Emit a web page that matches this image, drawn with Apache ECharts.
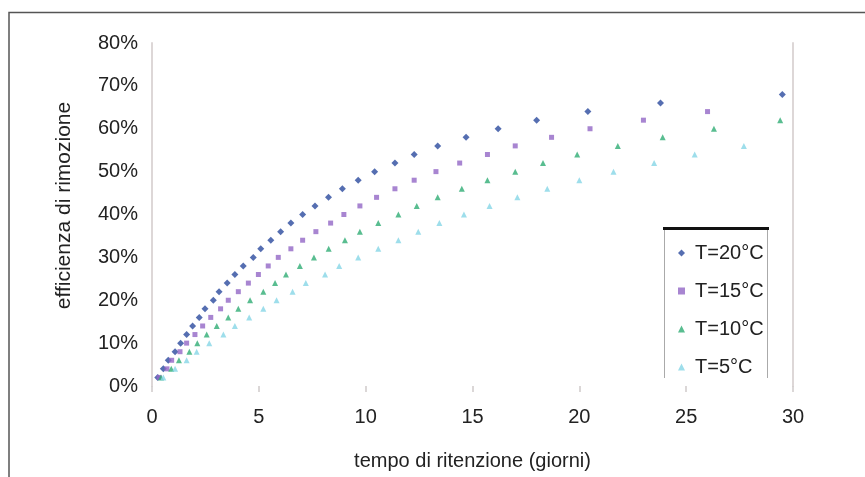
<!DOCTYPE html>
<html><head><meta charset="utf-8">
<script src="https://cdn.jsdelivr.net/npm/echarts@6/dist/echarts.min.js"></script>
<style>html,body{margin:0;padding:0;background:#fff}#c{width:865px;height:477px}</style>
</head><body><div id="c"></div>
<script>
const seriesNames = ['T=20°C', 'T=15°C', 'T=10°C', 'T=5°C'];
// tempo di ritenzione (giorni)
const t20x = [0.27,0.53,0.76,1.08,1.34,1.62,1.90,2.21,2.48,2.87,3.14,3.52,3.88,4.27,4.74,5.09,5.56,6.02,6.50,7.05,7.63,8.26,8.91,9.65,10.42,11.37,12.27,13.37,14.7,16.2,18.0,20.4,23.8,29.5];
const t20y = [2,4,6,8,10,12,14,16,18,20,22,24,26,28,30,32,34,36,38,40,42,44,46,48,50,52,54,56,58,60,62,64,66,68];
const t15x = [0.33,0.70,0.92,1.31,1.62,2.01,2.37,2.75,3.21,3.57,4.04,4.51,4.98,5.44,5.91,6.50,7.05,7.67,8.36,8.98,9.73,10.51,11.37,12.27,13.29,14.4,15.7,17.0,18.7,20.5,23.0,26.0];
const t15y = [2,4,6,8,10,12,14,16,18,20,22,24,26,28,30,32,34,36,38,40,42,44,46,48,50,52,54,56,58,60,62,64];
const t10x = [0.42,0.90,1.26,1.75,2.12,2.56,3.03,3.57,4.04,4.59,5.21,5.76,6.27,6.92,7.58,8.27,9.03,9.73,10.59,11.53,12.39,13.37,14.5,15.7,17.0,18.3,19.9,21.8,23.9,26.3,29.4];
const t10y = [2,4,6,8,10,12,14,16,18,20,22,24,26,28,30,32,34,36,38,40,42,44,46,48,50,52,54,56,58,60,62];
const t5x = [0.53,1.08,1.62,2.09,2.68,3.34,3.88,4.55,5.21,5.83,6.58,7.20,8.10,8.76,9.65,10.59,11.53,12.46,13.45,14.6,15.8,17.1,18.5,20.0,21.6,23.5,25.4,27.7];
const t5y = [2,4,6,8,10,12,14,16,18,20,22,24,26,28,30,32,34,36,38,40,42,44,46,48,50,52,54,56];
const xTicks = [0,5,10,15,20,25,30];
const yTicks = [0,10,20,30,40,50,60,70,80];
const xTitle = 'tempo di ritenzione (giorni)';
const yTitle = 'efficienza di rimozione';

const FONT = '"Liberation Sans", Arial, sans-serif';
const pairs = (xs, ys) => xs.map((x, i) => [x, ys[i]]);
const styles = [
  {symbol: 'diamond', size: 7, color: '#2b4a9e'},
  {symbol: 'rect', size: 5, color: '#9266c6'},
  {symbol: 'triangle', size: 6, color: '#30ac74'},
  {symbol: 'triangle', size: 6, color: '#86d6e6'}
];
const dataSets = [pairs(t20x, t20y), pairs(t15x, t15y), pairs(t10x, t10y), pairs(t5x, t5y)];

const chart = echarts.init(document.getElementById('c'), null, {renderer: 'canvas'});
chart.setOption({
  animation: false,
  backgroundColor: '#fff',
  textStyle: {fontFamily: FONT},
  grid: {left: 152, right: 72, top: 43, bottom: 91},
  xAxis: {
    type: 'value', min: xTicks[0], max: xTicks[xTicks.length - 1], interval: 5,
    axisLine: {show: false},
    axisTick: {show: true, length: 6, lineStyle: {color: '#cfcaca', width: 1.5}},
    axisLabel: {fontSize: 20, color: '#222', margin: 21, fontFamily: FONT},
    splitLine: {show: false},
    name: xTitle, nameLocation: 'middle', nameGap: 65,
    nameTextStyle: {fontSize: 20, color: '#222', fontFamily: FONT}
  },
  yAxis: [{
    type: 'value', min: yTicks[0], max: yTicks[yTicks.length - 1], interval: 10,
    axisLine: {show: true, lineStyle: {color: '#ddd7d7', width: 2}},
    axisTick: {show: false},
    axisLabel: {fontSize: 20, color: '#222', margin: 14, formatter: '{value}%', fontFamily: FONT},
    splitLine: {show: false},
    name: yTitle, nameLocation: 'middle', nameGap: 77, nameRotate: 90,
    nameTextStyle: {fontSize: 21, color: '#222', fontFamily: FONT, padding: [0, 0, 0, 18]}
  }, {
    type: 'value', position: 'right', min: 0, max: 80, interval: 10,
    axisLine: {show: true, lineStyle: {color: '#ddd7d7', width: 2}},
    axisTick: {show: false}, axisLabel: {show: false}, splitLine: {show: false}
  }],
  legend: {
    orient: 'vertical', left: 673, top: 238,
    itemWidth: 7, itemHeight: 7, itemGap: 18,
    data: seriesNames,
    textStyle: {fontSize: 20, color: '#222', fontFamily: FONT, padding: [0, 0, 0, 5]}
  },
  series: seriesNames.map((n, i) => ({
    name: n, type: 'scatter', data: dataSets[i],
    symbol: styles[i].symbol, symbolSize: styles[i].size,
    itemStyle: {color: styles[i].color}
  })),
  graphic: [
    {type: 'polyline', shape: {points: [[9, 477], [9, 12.5], [865, 12.5]]}, style: {stroke: '#555', lineWidth: 1.5, fill: null}, silent: true},
    {type: 'line', shape: {x1: 663, y1: 228.5, x2: 769, y2: 228.5}, style: {stroke: '#111', lineWidth: 3}, silent: true},
    {type: 'line', shape: {x1: 664.5, y1: 230, x2: 664.5, y2: 378}, style: {stroke: '#aaa', lineWidth: 1}, silent: true},
    {type: 'line', shape: {x1: 767.5, y1: 230, x2: 767.5, y2: 378}, style: {stroke: '#aaa', lineWidth: 1}, silent: true}
  ]
});
</script>
</body></html>
